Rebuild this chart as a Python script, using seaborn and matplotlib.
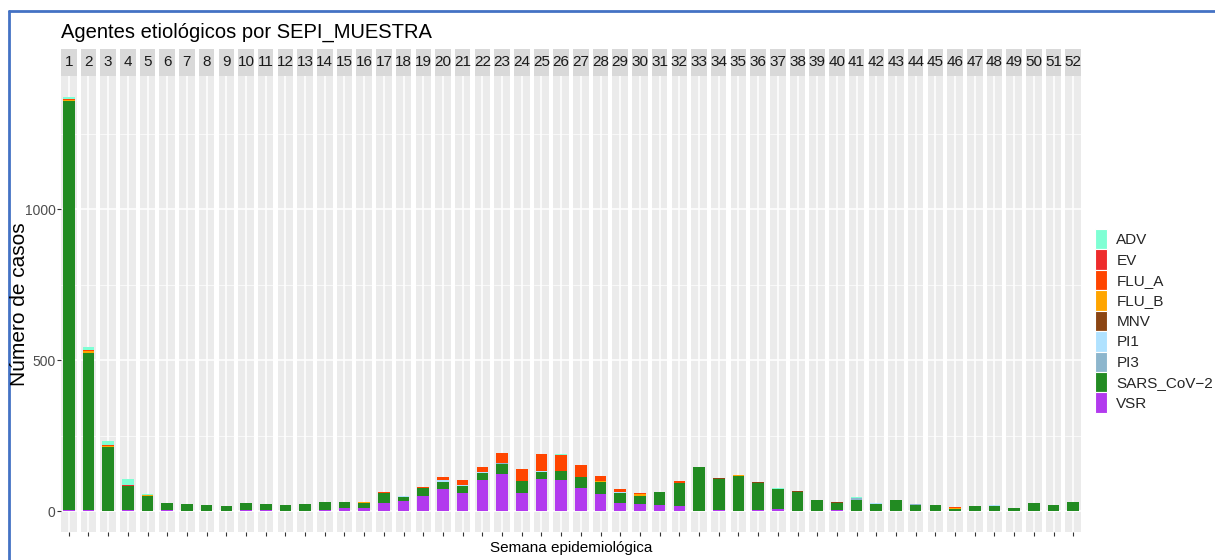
import numpy as np
import pandas as pd
import matplotlib
matplotlib.use('Agg')
import matplotlib.pyplot as plt
from matplotlib.patches import Rectangle, Patch
from matplotlib.lines import Line2D
import seaborn as sns

# Datos (casos por semana epidemiológica)
semanas = list(range(1, 53))
agentes = ['ADV', 'EV', 'FLU_A', 'FLU_B', 'MNV', 'PI1', 'PI3', 'SARS_CoV−2', 'VSR']
colores = ['#7FFFD4', '#EE2C2C', '#FF4500', '#FFA500', '#8B4513',
           '#B0E2FF', '#8DB6CD', '#228B22', '#B23AEE']

adv = [6, 11, 12, 22, 2, 2, 0, 1, 0, 0,
       0, 0, 0, 0, 2, 0, 0, 0, 0, 0,
       0, 0, 0, 0, 0, 3, 0, 0, 0, 0,
       0, 0, 0, 0, 0, 0, 4, 0, 0, 0,
       4, 0, 0, 0, 0, 0, 0, 0, 0, 0,
       0, 0]
ev = [0, 0, 0, 3, 0, 0, 0, 0, 0, 0,
      0, 0, 0, 0, 0, 0, 0, 0, 0, 0,
      0, 0, 0, 0, 0, 0, 0, 0, 0, 0,
      0, 0, 0, 0, 0, 0, 0, 0, 0, 0,
      0, 0, 0, 0, 0, 0, 0, 0, 0, 0,
      0, 0]
flu_a = [4, 5, 2, 0, 0, 0, 0, 0, 0, 0,
         0, 0, 0, 0, 0, 0, 4, 0, 3, 12,
         16, 18, 34, 40, 56, 55, 41, 16, 10, 3,
         0, 4, 0, 0, 0, 0, 0, 0, 0, 0,
         0, 0, 0, 0, 0, 2, 0, 0, 0, 0,
         0, 0]
flu_b = [5, 6, 4, 0, 2, 0, 0, 0, 0, 0,
         0, 0, 0, 0, 0, 3, 0, 0, 0, 0,
         0, 0, 0, 0, 0, 0, 0, 3, 0, 4,
         0, 0, 0, 0, 3, 0, 0, 0, 0, 0,
         0, 0, 0, 0, 0, 3, 0, 0, 0, 0,
         0, 0]
mnv = [0, 0, 0, 0, 0, 0, 0, 0, 0, 0,
       0, 0, 0, 0, 0, 0, 0, 0, 0, 0,
       0, 0, 0, 0, 0, 0, 0, 0, 0, 0,
       0, 0, 0, 4, 0, 4, 0, 4, 0, 3,
       0, 0, 0, 0, 0, 0, 0, 0, 2, 0,
       0, 0]
pi1 = [0, 0, 0, 0, 0, 0, 0, 0, 0, 0,
       0, 0, 0, 0, 0, 0, 0, 3, 2, 4,
       2, 3, 0, 0, 3, 0, 0, 0, 4, 0,
       0, 0, 0, 0, 0, 2, 0, 0, 0, 0,
       0, 2, 0, 0, 0, 0, 0, 3, 0, 0,
       0, 0]
pi3 = [0, 0, 0, 0, 0, 0, 0, 0, 0, 0,
       0, 0, 0, 0, 0, 0, 0, 0, 0, 0,
       0, 0, 4, 0, 0, 0, 0, 0, 0, 0,
       0, 0, 0, 0, 0, 0, 0, 0, 0, 0,
       5, 0, 0, 5, 0, 0, 0, 0, 0, 0,
       0, 0]
sars = [1354, 520, 213, 80, 52, 23, 22, 19, 17, 25,
        21, 21, 23, 25, 19, 18, 32, 13, 24, 25,
        25, 22, 31, 41, 22, 29, 37, 42, 31, 27,
        42, 76, 145, 103, 117, 89, 68, 64, 36, 24,
        38, 25, 36, 20, 21, 7, 18, 17, 10, 26,
        21, 30]
vsr = [3, 3, 0, 3, 0, 3, 2, 2, 2, 3,
       3, 0, 0, 5, 11, 11, 29, 33, 52, 73,
       60, 105, 125, 60, 107, 103, 76, 56, 29, 25,
       22, 19, 2, 4, 0, 3, 6, 0, 0, 3,
       0, 0, 0, 0, 0, 2, 0, 0, 0, 0,
       0, 0]

datos = pd.DataFrame({'semana': semanas, 'ADV': adv, 'EV': ev, 'FLU_A': flu_a,
                      'FLU_B': flu_b, 'MNV': mnv, 'PI1': pi1, 'PI3': pi3,
                      'SARS_CoV−2': sars, 'VSR': vsr})
largo = datos.melt(id_vars='semana', var_name='agente', value_name='casos')
total_max = datos[agentes].sum(axis=1).max()

sns.set_theme(style='darkgrid', rc={'axes.facecolor': '#EBEBEB', 'grid.color': 'white'})
plt.rcParams['font.family'] = ['Liberation Sans', 'DejaVu Sans']

W, H = 1215, 560
fig = plt.figure(figsize=(W / 100, H / 100), dpi=100)
fig.patch.set_facecolor('white')
axes = fig.subplots(1, 52, sharey=True,
                    gridspec_kw=dict(left=61 / W, right=1081 / W, top=1 - 76 / H,
                                     bottom=1 - 532 / H, wspace=0.27))

paleta = dict(zip(agentes, colores))
h_strip = 27 / 456

for ax, w in zip(axes, semanas):
    sub = largo[largo['semana'] == w]
    sns.histplot(data=sub, x='semana', weights='casos', hue='agente', hue_order=agentes,
                 palette=paleta, multiple='stack', discrete=True, shrink=0.9,
                 linewidth=0, alpha=1, legend=False, ax=ax)
    ax.set_xlim(w - 0.6, w + 0.6)
    ax.set_xticks([w])
    ax.set_xlabel('')
    ax.set_ylabel('')
    for s in ax.spines.values():
        s.set_visible(False)
    ax.set_axisbelow(True)
    ax.grid(True, which='major', color='white', lw=1.1)
    ax.grid(True, which='minor', axis='y', color='white', lw=0.5)
    ax.tick_params(axis='x', bottom=True, length=3, width=0.8, color='#333333',
                   labelbottom=False)
    ax.tick_params(axis='y', which='both', left=False, labelleft=False)
    # tira de faceta con el número de semana
    ax.add_patch(Rectangle((0, 1), 1, h_strip, transform=ax.transAxes,
                           facecolor='#D9D9D9', edgecolor='none', clip_on=False))
    ax.text(0.5, 1 + h_strip / 2, str(w), transform=ax.transAxes, ha='center',
            va='center', fontsize=11, color='#1A1A1A')

axes[0].set_ylim(-0.05 * total_max, 1.05 * total_max)
axes[0].set_yticks([0, 500, 1000])
axes[0].set_yticks([250, 750, 1250], minor=True)
axes[0].tick_params(axis='y', which='major', left=True, labelleft=True, length=3,
                    width=0.8, color='#333333', labelsize=10, labelcolor='#4D4D4D', pad=1)

fig.text(61 / W, 1 - 38 / H, 'Agentes etiológicos por SEPI_MUESTRA', fontsize=14.5,
         va='baseline', ha='left', color='black')
fig.text(571 / W, 1 - 552 / H, 'Semana epidemiológica', fontsize=11,
         ha='center', va='baseline', color='black')
fig.text(20 / W, 1 - 304 / H, 'Número de casos', fontsize=15, rotation=90,
         ha='center', va='center', color='black')

handles = [Patch(facecolor=c, edgecolor='white', linewidth=0.8) for c in colores]
fig.legend(handles, agentes, loc='upper left', bbox_to_anchor=(1095 / W, 1 - 229 / H),
           frameon=False, fontsize=11, handlelength=0.8, handleheight=1.68,
           labelspacing=0, handletextpad=0.6, borderpad=0, borderaxespad=0)

# marco azul de la captura
fig.add_artist(Line2D([9 / W, 9 / W], [0, 1 - 11 / H], transform=fig.transFigure,
                      color='#4472C4', lw=2))
fig.add_artist(Line2D([9 / W, 1], [1 - 11 / H, 1 - 11 / H], transform=fig.transFigure,
                      color='#4472C4', lw=2))

fig.savefig('out.png', dpi=100)
